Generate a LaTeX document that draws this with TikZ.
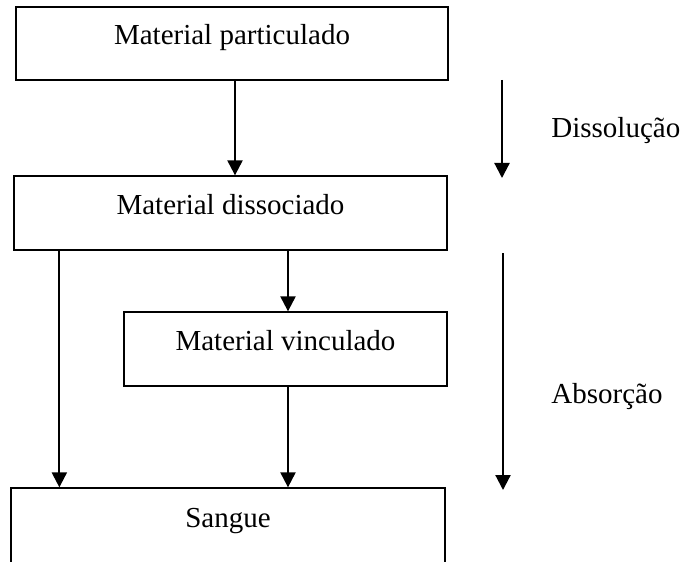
\documentclass[tikz,border=0pt]{standalone}
\usepackage{fontspec}
\setmainfont{Liberation Serif}
\usetikzlibrary{arrows.meta}
\tikzset{
    caixa/.style={draw, line width=0.65pt, minimum height=37pt, inner sep=0pt,
        text height=10pt, text depth=8.5pt},
    seta/.style={-{Triangle[width=7.5pt,length=7.5pt]}, line width=1.1pt},
    etapa/.style={anchor=base west, inner sep=0pt},
}

\begin{document}
\begin{tikzpicture}[x=0.5pt,y=-0.5pt,font=\fontsize{14.5}{17}\selectfont]
    \useasboundingbox (0,0) rectangle (689,561);

    \draw (232,43.5) node[caixa,minimum width=216pt,minimum height=36.5pt] (PART) {Material particulado};
    \node[caixa,minimum width=216.5pt] (DISS) at (230.5,213) {Material dissociado};
    \node[caixa,minimum width=161.5pt] (VINC) at (285.5,349) {Material vinculado};
    \node[caixa,minimum width=217pt,minimum height=37.5pt] (SANG) at (228,525.5) {Sangue};

    \coordinate (P) at ([xshift=1.5pt]PART.south);
    \coordinate (E) at ([xshift=23pt]DISS.south west);
    \coordinate (V) at ([xshift=1.25pt]VINC.north);

    \draw[seta] (P) -- (P |- DISS.north);
    \draw[seta] (E) -- (E |- SANG.north);
    \draw[seta] (V |- DISS.south) -- (V);
    \draw[seta] (V |- VINC.south) -- (V |- SANG.north);

    % etapas
    \coordinate (D1) at (502,80);
    \coordinate (D2) at (502,178);
    \coordinate (A1) at (503,253);
    \coordinate (A2) at (503,490);
    \draw[seta] (D1) -- (D2);
    \draw[seta] (A1) -- (A2);
    \node[etapa] (DISSOL) at (551,138) {Dissolução};
    \node[etapa] (ABSOR) at (551,403) {Absorção};
\end{tikzpicture}
\end{document}
